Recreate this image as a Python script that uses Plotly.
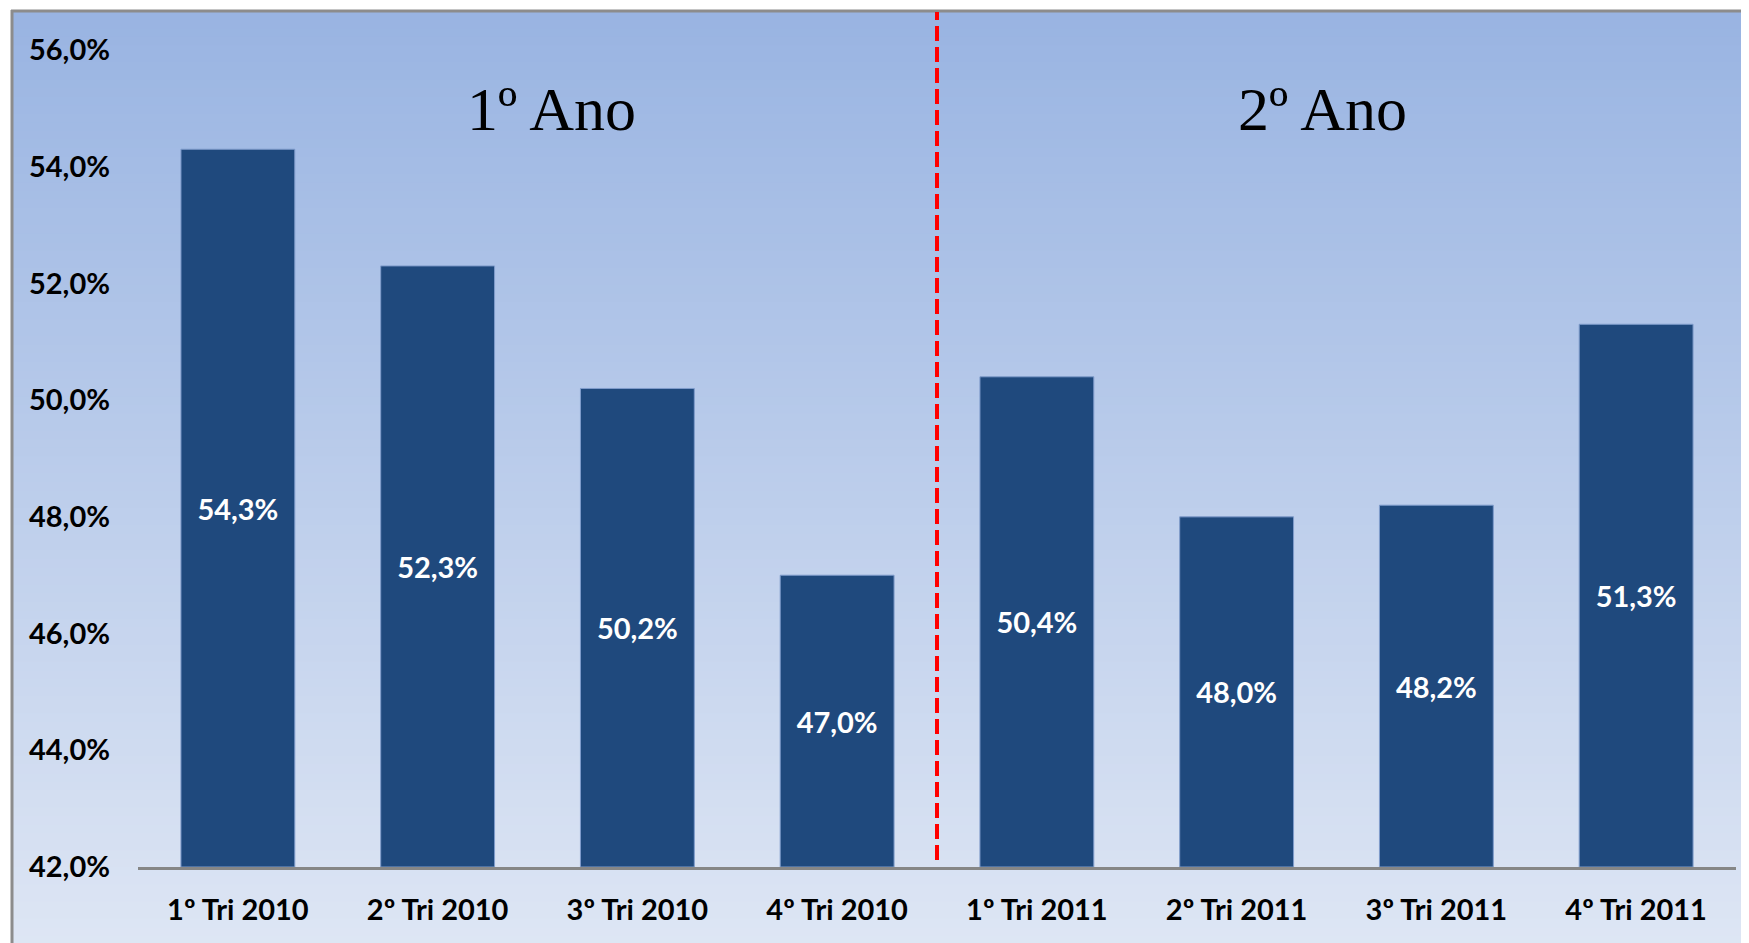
import plotly.graph_objects as go

categories = ["1º Tri 2010", "2º Tri 2010", "3º Tri 2010", "4º Tri 2010",
              "1º Tri 2011", "2º Tri 2011", "3º Tri 2011", "4º Tri 2011"]
values = [54.3, 52.3, 50.2, 47.0, 50.4, 48.0, 48.2, 51.3]
value_labels = ["54,3%", "52,3%", "50,2%", "47,0%", "50,4%", "48,0%", "48,2%", "51,3%"]
y_tick_values = [42, 44, 46, 48, 50, 52, 54, 56]
y_tick_labels = ["42,0%", "44,0%", "46,0%", "48,0%", "50,0%", "52,0%", "54,0%", "56,0%"]
period_labels = ["1º Ano", "2º Ano"]
Y_MIN, Y_MAX = 42, 56

# the page body has an 8px margin, so the figure is 8px smaller than the window
W, H = 1741, 935
ML, MR, MT, MB = 130, 13, 42, 76
PW, PH = W - ML - MR, H - MT - MB


def px_x(p):
    return (p - ML) / PW


def px_y(p):
    return (H - MB - p) / PH


fig = go.Figure()
# bars start at the axis minimum so that the inside labels sit mid-bar
fig.add_trace(go.Bar(
    x=categories, y=[v - Y_MIN for v in values], base=Y_MIN, text=value_labels,
    textposition="inside", insidetextanchor="middle", textangle=0,
    textfont=dict(family="Lato", size=29, color="white", weight="bold"),
    marker=dict(color="#1F497D", line=dict(color="#7F9CCB", width=1)),
    width=0.57, hoverinfo="skip",
))

shapes = []
# vertical gradient background inside the frame
top_c = (0x99, 0xB4, 0xE2)
bot_c = (0xDE, 0xE6, 0xF4)
y_start, y_end = 3, 945
n = 110
for i in range(n):
    t = i / (n - 1)
    c = tuple(int(round(top_c[k] + (bot_c[k] - top_c[k]) * t)) for k in range(3))
    ya = y_start + (y_end - y_start) * i / n
    yb = y_start + (y_end - y_start) * (i + 1) / n + 1
    shapes.append(dict(type="rect", xref="paper", yref="paper",
                       x0=px_x(4), x1=px_x(1760), y0=px_y(yb), y1=px_y(ya),
                       fillcolor="rgb(%d,%d,%d)" % c, line=dict(width=0),
                       layer="below"))
# frame (left and top edges)
shapes.append(dict(type="line", xref="paper", yref="paper",
                   x0=px_x(4), x1=px_x(4), y0=px_y(945), y1=px_y(2),
                   line=dict(color="#8C8C8C", width=3), layer="above"))
shapes.append(dict(type="line", xref="paper", yref="paper",
                   x0=px_x(3), x1=px_x(1760), y0=px_y(3), y1=px_y(3),
                   line=dict(color="#8C8C8C", width=3), layer="above"))
# dashed separator between the two years
shapes.append(dict(type="line", xref="x", yref="paper",
                   x0=3.5, x1=3.5, y0=px_y(852), y1=px_y(4),
                   line=dict(color="#FF0000", width=4, dash="15px,6px"),
                   layer="above"))

annotations = [
    dict(x=1.57, y=px_y(101), xref="x", yref="paper", text=period_labels[0],
         showarrow=False, xanchor="center", yanchor="middle",
         font=dict(family="Liberation Serif", size=62, color="black")),
    dict(x=5.43, y=px_y(101), xref="x", yref="paper", text=period_labels[1],
         showarrow=False, xanchor="center", yanchor="middle",
         font=dict(family="Liberation Serif", size=62, color="black")),
]

fig.update_layout(
    width=W, height=H,
    margin=dict(l=ML, r=MR, t=MT, b=MB, pad=0),
    paper_bgcolor="white", plot_bgcolor="rgba(0,0,0,0)",
    showlegend=False, bargap=0.43,
    shapes=shapes, annotations=annotations,
    xaxis=dict(type="category", showline=True, linecolor="#868686", linewidth=3,
               showgrid=False, zeroline=False, ticks="",
               ticklabelstandoff=15,
               tickfont=dict(family="Lato", size=29, color="black", weight="bold")),
    yaxis=dict(range=[Y_MIN, Y_MAX], tickvals=y_tick_values, ticktext=y_tick_labels,
               showline=False, showgrid=False, zeroline=False, ticks="",
               ticklabelstandoff=27,
               tickfont=dict(family="Lato", size=29, color="black", weight="bold")),
)

fig.write_html("out.html")
